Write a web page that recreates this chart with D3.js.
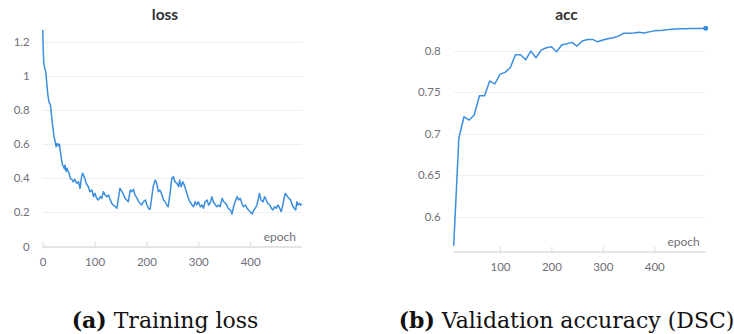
<!DOCTYPE html>
<html>
<head>
<meta charset="utf-8">
<script src="https://cdn.jsdelivr.net/npm/d3@7/dist/d3.min.js"></script>
<style>
  html, body { margin: 0; padding: 0; background: #fff; }
  svg { display: block; }
</style>
</head>
<body>
<svg id="fig" width="734" height="334"></svg>
<script>
// Training loss, one reading per few epochs
const lossEpoch = [0,1,2,4,6,7,10,12,15,17,19,22,24,26,28,30,32,34,36,38,40,42,43,45,47,49,51,53,55,57,59,62,64,66,69,72,75,77,80,84,88,91,95,98,101,104,107,111,114,117,120,124,127,130,133,136,140,143,146,149,153,156,159,162,165,169,172,175,178,182,185,188,191,194,198,201,204,207,210,213,217,220,223,226,230,233,236,239,242,246,249,252,255,259,262,264,267,270,273,277,281,284,288,291,294,297,300,304,307,310,313,317,320,323,326,329,333,336,339,342,346,349,352,355,358,362,365,368,371,375,378,381,384,387,391,394,397,400,404,407,410,413,416,418,421,425,428,431,434,438,441,444,447,450,454,457,460,463,466,468,472,475,478,481,485,488,490,492,495,497,500];
const lossValue = [1.268,1.16,1.075,1.043,1.023,0.985,0.887,0.848,0.828,0.77,0.711,0.643,0.614,0.584,0.604,0.59,0.60,0.56,0.515,0.48,0.467,0.455,0.477,0.44,0.458,0.44,0.43,0.399,0.395,0.39,0.379,0.393,0.378,0.370,0.379,0.341,0.409,0.429,0.409,0.370,0.350,0.321,0.331,0.292,0.311,0.282,0.272,0.292,0.282,0.321,0.302,0.292,0.302,0.276,0.253,0.243,0.233,0.224,0.282,0.341,0.321,0.302,0.282,0.272,0.262,0.331,0.321,0.335,0.302,0.282,0.262,0.253,0.243,0.262,0.272,0.243,0.224,0.218,0.282,0.350,0.389,0.370,0.321,0.331,0.302,0.272,0.262,0.243,0.233,0.321,0.399,0.409,0.379,0.370,0.350,0.389,0.350,0.379,0.360,0.321,0.282,0.262,0.243,0.233,0.262,0.243,0.262,0.233,0.243,0.224,0.262,0.272,0.243,0.253,0.292,0.262,0.243,0.233,0.243,0.233,0.282,0.262,0.255,0.243,0.222,0.214,0.19,0.233,0.262,0.292,0.272,0.282,0.253,0.233,0.243,0.224,0.214,0.204,0.19,0.214,0.224,0.243,0.282,0.311,0.272,0.262,0.292,0.272,0.253,0.243,0.224,0.214,0.233,0.224,0.243,0.224,0.204,0.243,0.292,0.311,0.292,0.282,0.272,0.243,0.224,0.214,0.262,0.243,0.253,0.243,0.248];

// Validation accuracy (DSC), evaluated every 10 epochs
const accEpoch = [10,20,30,40,50,60,70,80,90,100,110,120,130,140,150,160,170,180,190,200,210,220,230,240,250,260,270,280,290,300,310,320,330,340,350,360,370,380,390,400,410,420,430,440,450,460,470,480,490,500];
const accValue = [0.565,0.6945,0.7205,0.7165,0.7225,0.7458,0.7458,0.7635,0.7602,0.7716,0.774,0.7795,0.7952,0.7952,0.7892,0.7996,0.7916,0.8008,0.8036,0.8048,0.7988,0.8069,0.8084,0.8101,0.8057,0.8117,0.8137,0.8137,0.8108,0.8129,0.8145,0.8157,0.8177,0.8210,0.8212,0.8215,0.8222,0.8215,0.8228,0.8240,0.8243,0.8250,0.8258,0.8263,0.8265,0.8266,0.8268,0.8270,0.8270,0.8271];

const lossYTicks = [0, 0.2, 0.4, 0.6, 0.8, 1, 1.2];
const lossXTicks = [0, 100, 200, 300, 400];
const accYTicks = [0.6, 0.65, 0.7, 0.75, 0.8];
const accXTicks = [100, 200, 300, 400];

const titles = ["loss", "acc"];
const xLabel = "epoch";
const captions = [["(a)", " Training loss"], ["(b)", " Validation accuracy (DSC)"]];

const LINE = "#3a8ee0";
const GRID = "#efefef";
const TICK_TXT = "#6f6f78";
const FONT = "Lato, 'Open Sans', sans-serif";

const svg = d3.select("#fig");
svg.append("rect").attr("width", 734).attr("height", 334).attr("fill", "#fff");

function panel(cfg) {
  const g = svg.append("g");
  const x = d3.scaleLinear().domain(cfg.xDomain).range([cfg.left, cfg.right]);
  const y = d3.scaleLinear().domain(cfg.yDomain).range([cfg.bottom, cfg.top]);

  // horizontal grid
  g.append("g").selectAll("line").data(cfg.yTicks.filter(d => d > cfg.yDomain[0])).join("line")
    .attr("x1", cfg.left).attr("x2", cfg.right)
    .attr("y1", d => Math.round(y(d)) + 0.5).attr("y2", d => Math.round(y(d)) + 0.5)
    .attr("stroke", GRID).attr("stroke-width", 1);

  // y tick labels
  g.append("g").selectAll("text").data(cfg.yTicks).join("text")
    .attr("x", cfg.left - 13).attr("y", d => y(d)).attr("dy", "0.35em")
    .attr("text-anchor", "end").attr("font-family", FONT).attr("font-size", 11.5)
    .attr("fill", TICK_TXT).text(d => d3.format("~g")(d));

  // x axis
  const xAxis = d3.axisBottom(x).tickValues(cfg.xTicks).tickSize(7).tickPadding(9);
  const ax = g.append("g").attr("transform", `translate(0,${cfg.bottom - 5})`).call(xAxis);
  ax.select(".domain").remove();
  ax.selectAll(".tick line").attr("stroke", "#dcdcdc").attr("stroke-width", 1);
  ax.selectAll(".tick text").attr("font-family", FONT).attr("font-size", 11.5)
    .attr("fill", TICK_TXT);
  g.append("line").attr("x1", cfg.left).attr("x2", cfg.right)
    .attr("y1", cfg.bottom + 0.5).attr("y2", cfg.bottom + 0.5)
    .attr("stroke", "#e4e4e4").attr("stroke-width", 2);

  // axis name
  g.append("text").attr("x", cfg.right - 6).attr("y", cfg.bottom - 6)
    .attr("text-anchor", "end").attr("font-family", FONT).attr("font-size", 12)
    .attr("fill", TICK_TXT).text(xLabel);

  // series
  const pts = cfg.xs.map((e, i) => [e, cfg.ys[i]]);
  g.append("path").datum(pts)
    .attr("fill", "none").attr("stroke", LINE).attr("stroke-width", 1.5)
    .attr("stroke-linejoin", "round")
    .attr("d", d3.line().x(d => x(d[0])).y(d => y(d[1])));
  if (cfg.endDot) {
    const last = pts[pts.length - 1];
    g.append("circle").attr("cx", x(last[0])).attr("cy", y(last[1])).attr("r", 2.5).attr("fill", LINE);
  }

  // title
  g.append("text").attr("x", cfg.cx).attr("y", 20).attr("text-anchor", "middle")
    .attr("font-family", FONT).attr("font-weight", 700).attr("font-size", 15.5)
    .attr("fill", "#333").text(cfg.title);

  // caption
  const cap = svg.append("text").attr("x", cfg.cx).attr("y", 328).attr("text-anchor", "middle")
    .attr("font-family", "'DejaVu Serif', serif").attr("font-size", 22).attr("fill", "#111");
  cap.append("tspan").attr("font-weight", 700).text(cfg.caption[0]);
  cap.append("tspan").text(cfg.caption[1]);
}

panel({
  xs: lossEpoch, ys: lossValue,
  xDomain: [0, 500], yDomain: [0, 1.268],
  left: 42.7, right: 302, top: 30, bottom: 246.5,
  xTicks: lossXTicks, yTicks: lossYTicks,
  title: titles[0], cx: 165, caption: captions[0], endDot: false
});

panel({
  xs: accEpoch, ys: accValue,
  xDomain: [10, 500], yDomain: [0.558, 0.8271],
  left: 453.7, right: 705.7, top: 28.3, bottom: 251.5,
  xTicks: accXTicks, yTicks: accYTicks,
  title: titles[1], cx: 566.5, caption: captions[1], endDot: true
});
</script>
</body>
</html>
